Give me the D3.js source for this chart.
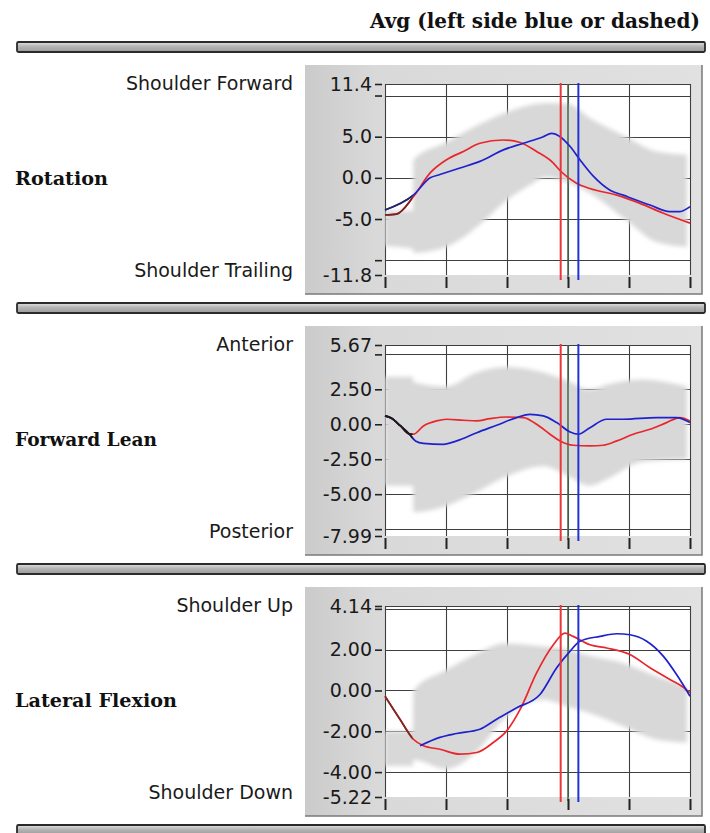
<!DOCTYPE html>
<html>
<head>
<meta charset="utf-8">
<script src="https://cdn.jsdelivr.net/npm/d3@7"></script>
<style>
  html, body { margin: 0; padding: 0; background: #ffffff; }
  svg { display: block; }
</style>
</head>
<body>
<svg id="chart" width="710" height="833"></svg>
<script>
// ---- cycle position (percent) ----
const xTicks = [0, 20, 40, 60, 80, 100];
const leadEnd = 9;            // shared lead-in segment drawn darker
const redEvent = 57.6;        // right side event
const releaseEvent = 60;      // reference event
const blueEvent = 63.4;       // left side event

// ---- Rotation ----
const rotationDomain = [-11.8, 11.4];
const rotationTicks = [11.4, 10, 5, 0, -5, -10, -11.8];
const rotationTickLabels = ["11.4", "", "5.0", "0.0", "-5.0", "", "-11.8"];
const rotationGrid = [10, 5, 0, -5, -10];
const rotationBandX  = [0, 9.2, 9.3, 20, 31, 40, 47, 53, 60, 67, 79, 89, 99];
const rotationBandHi = [-4.0, -4.0, 2.2, 4.3, 6.5, 8.0, 8.8, 9.1, 9.0, 7.3, 5.0, 3.2, 2.8];
const rotationBandLo = [-8.3, -8.6, -9.1, -8.4, -5.7, -2.7, -1.0, 0.1, -0.6, -1.8, -5.1, -7.8, -8.4];
const rotationRedX = [0, 3.8, 9.3, 14.8, 20.2, 25.7, 31.1, 38.8, 44.3, 49.7, 55.2, 57.6, 62.8, 67.2, 76.0, 83.6, 91.3, 100];
const rotationRedY = [-4.5, -4.4, -2.3, 0.6, 2.2, 3.2, 4.2, 4.6, 4.3, 3.2, 1.8, 0.8, -0.65, -1.3, -2.1, -3.1, -4.3, -5.5];
const rotationBlueX = [0, 9.3, 14.8, 18.0, 24.6, 31.1, 38.8, 45.4, 51.9, 54.6, 57.4, 60.7, 63.9, 68.3, 73.8, 78.1, 86.9, 93.4, 96.7, 100];
const rotationBlueY = [-3.9, -2.1, 0.0, 0.4, 1.2, 2.0, 3.4, 4.2, 5.0, 5.4, 5.0, 3.8, 2.2, 0.2, -1.5, -2.1, -3.3, -4.1, -4.1, -3.5];

// ---- Forward Lean ----
const leanDomain = [-7.99, 5.67];
const leanTicks = [5.67, 5, 2.5, 0, -2.5, -5, -7.5, -7.99];
const leanTickLabels = ["5.67", "", "2.50", "0.00", "-2.50", "-5.00", "", "-7.99"];
const leanGrid = [5, 2.5, 0, -2.5, -5, -7.5];
const leanBandX  = [0, 9.2, 9.3, 20, 30, 40, 52, 60, 67, 73, 84, 99];
const leanBandHi = [3.4, 3.4, 3.0, 2.7, 3.7, 4.1, 3.7, 3.1, 2.5, 2.85, 3.2, 2.7];
const leanBandLo = [-4.4, -4.4, -6.3, -5.85, -4.85, -3.7, -3.0, -3.7, -4.4, -3.9, -2.7, -2.5];
const leanRedX = [0, 2, 5, 8, 9.3, 12.6, 16.9, 20.2, 25.7, 30.1, 34.4, 39.9, 45.4, 49.7, 54.1, 57.4, 61.7, 67.2, 71.6, 76.0, 81.4, 86.9, 92.3, 96.7, 100];
const leanRedY = [0.6, 0.45, -0.1, -0.7, -0.71, -0.12, 0.24, 0.36, 0.29, 0.24, 0.40, 0.52, 0.48, 0.0, -0.71, -1.19, -1.5, -1.55, -1.5, -1.19, -0.71, -0.36, 0.12, 0.48, 0.24];
const leanBlueX = [0, 2, 5, 8, 10, 12.6, 19.1, 23.5, 30.1, 36.6, 43.2, 47.5, 51.9, 56.3, 60.7, 63.4, 67.2, 72.7, 78.1, 89.1, 95.6, 100];
const leanBlueY = [0.6, 0.45, -0.1, -0.7, -1.19, -1.36, -1.43, -1.19, -0.6, -0.07, 0.48, 0.71, 0.6, 0.12, -0.55, -0.71, -0.24, 0.36, 0.36, 0.48, 0.48, 0.12];

// ---- Lateral Flexion ----
const flexDomain = [-5.22, 4.14];
const flexTicks = [4.14, 4, 2, 0, -2, -4, -5.22];
const flexTickLabels = ["4.14", "", "2.00", "0.00", "-2.00", "-4.00", "-5.22"];
const flexGrid = [4, 2, 0, -2, -4];
const flexBandX  = [0, 9.2, 9.3, 20, 30, 39, 52, 60, 67, 78, 89, 99];
const flexBandHi = [-2.0, -2.0, 0.0, 1.0, 1.8, 2.3, 2.15, 2.0, 1.7, 1.35, 0.7, 0.2];
const flexBandLo = [-3.7, -3.7, -3.4, -3.85, -3.0, -1.4, -0.45, -0.8, -1.1, -1.75, -2.4, -2.55];
const flexRedX = [0, 4.9, 9.3, 12.6, 18.0, 24.6, 30.1, 35.5, 39.9, 44.3, 49.7, 55.2, 59.0, 61.7, 67.2, 72.7, 80.3, 86.9, 93.4, 97.3, 100];
const flexRedY = [-0.28, -1.41, -2.39, -2.71, -2.88, -3.12, -3.04, -2.55, -1.98, -0.93, 0.86, 2.24, 2.81, 2.65, 2.24, 2.08, 1.76, 1.11, 0.54, 0.21, -0.11];
const flexBlueX = [11.5, 18.0, 23.5, 31.1, 36.6, 43.2, 50.8, 56.3, 60.7, 63.9, 70.5, 76.0, 80.3, 85.8, 91.3, 95.6, 100];
const flexBlueY = [-2.71, -2.3, -2.11, -1.9, -1.41, -0.85, -0.2, 1.11, 1.93, 2.41, 2.65, 2.78, 2.73, 2.41, 1.67, 0.78, -0.28];

const titleText = "Avg (left side blue or dashed)";
const panelNames = ["Rotation", "Forward Lean", "Lateral Flexion"];
const topLabels = ["Shoulder Forward", "Anterior", "Shoulder Up"];
const bottomLabels = ["Shoulder Trailing", "Posterior", "Shoulder Down"];

const zip = (xs, ys) => xs.map((v, i) => ({ x: v, y: ys[i] }));
const zipBand = (xs, hi, lo) => xs.map((v, i) => ({ x: v, hi: hi[i], lo: lo[i] }));

const panels = [
  { domain: rotationDomain, ticks: rotationTicks, tickLabels: rotationTickLabels, grid: rotationGrid,
    band: zipBand(rotationBandX, rotationBandHi, rotationBandLo),
    red: zip(rotationRedX, rotationRedY), blue: zip(rotationBlueX, rotationBlueY) },
  { domain: leanDomain, ticks: leanTicks, tickLabels: leanTickLabels, grid: leanGrid,
    band: zipBand(leanBandX, leanBandHi, leanBandLo),
    red: zip(leanRedX, leanRedY), blue: zip(leanBlueX, leanBlueY) },
  { domain: flexDomain, ticks: flexTicks, tickLabels: flexTickLabels, grid: flexGrid,
    band: zipBand(flexBandX, flexBandHi, flexBandLo),
    red: zip(flexRedX, flexRedY), blue: zip(flexBlueX, flexBlueY) }
];

// ---- layout ----
const X0 = 385, X1 = 690;
const PLOT_TOP0 = 84, PITCH = 261, PLOT_H = 191;
const BOX_X0 = 305, BOX_X1 = 702;
const leadColors = [["#6e2424", "#26265e"], ["#1b1b1b", "#1b1b1b"], ["#7a2a24", "#7a2a24"]];

const svg = d3.select("#chart");
const defs = svg.append("defs");

const sepGrad = defs.append("linearGradient").attr("id", "sepFill")
  .attr("x1", 0).attr("y1", 0).attr("x2", 0).attr("y2", 1);
sepGrad.append("stop").attr("offset", "0%").attr("stop-color", "#e2e2e2");
sepGrad.append("stop").attr("offset", "45%").attr("stop-color", "#b4b4b4");
sepGrad.append("stop").attr("offset", "100%").attr("stop-color", "#9a9a9a");

const boxGrad = defs.append("linearGradient").attr("id", "boxFill")
  .attr("x1", 0).attr("y1", 0).attr("x2", 1).attr("y2", 0);
boxGrad.append("stop").attr("offset", "0%").attr("stop-color", "#cbcbcb");
boxGrad.append("stop").attr("offset", "18%").attr("stop-color", "#d9d9d9");
boxGrad.append("stop").attr("offset", "100%").attr("stop-color", "#e1e1e1");

const blur = defs.append("filter").attr("id", "soft")
  .attr("x", "-5%").attr("y", "-10%").attr("width", "110%").attr("height", "120%");
blur.append("feGaussianBlur").attr("stdDeviation", 2);

const x = d3.scaleLinear().domain([0, 100]).range([X0, X1]);

// title
svg.append("text")
  .attr("x", 370).attr("y", 28)
  .attr("textLength", 330).attr("lengthAdjust", "spacingAndGlyphs")
  .attr("font-family", "DejaVu Serif").attr("font-weight", "bold").attr("font-size", 20)
  .attr("fill", "#111").text(titleText);

// separator bars
d3.range(4).forEach(i => {
  svg.append("rect")
    .attr("x", 17).attr("y", PLOT_TOP0 + i * PITCH - 42)
    .attr("width", 688).attr("height", 10).attr("rx", 1.5)
    .attr("fill", "url(#sepFill)").attr("stroke", "#2a2a2a").attr("stroke-width", 1.8);
});

panels.forEach((p, i) => {
  const top = PLOT_TOP0 + i * PITCH;
  const bot = top + PLOT_H;
  const y = d3.scaleLinear().domain(p.domain).range([bot, top]);
  const g = svg.append("g");

  // panel frame
  g.append("rect").attr("x", BOX_X0).attr("y", top - 19)
    .attr("width", BOX_X1 - BOX_X0).attr("height", PLOT_H + 38)
    .attr("fill", "url(#boxFill)");
  g.append("path")
    .attr("d", `M${BOX_X1},${top - 19}V${bot + 19}H${BOX_X0}`)
    .attr("fill", "none").attr("stroke", "#7a7a7a").attr("stroke-width", 1.5);

  // plot background
  g.append("rect").attr("x", X0).attr("y", top)
    .attr("width", X1 - X0).attr("height", PLOT_H).attr("fill", "#ffffff");

  const clipId = `plot-clip-${i}`;
  defs.append("clipPath").attr("id", clipId)
    .append("rect").attr("x", X0).attr("y", top).attr("width", X1 - X0).attr("height", PLOT_H + 6);
  const leadId = `lead-clip-${i}`;
  defs.append("clipPath").attr("id", leadId)
    .append("rect").attr("x", X0 - 2).attr("y", top).attr("width", x(leadEnd) - X0 + 2).attr("height", PLOT_H);

  // grid
  const grid = g.append("g").attr("stroke", "#3e3e3e").attr("stroke-width", 1.1);
  grid.selectAll("line.h").data([p.domain[1]].concat(p.grid)).join("line")
    .attr("x1", X0).attr("x2", X1)
    .attr("y1", d => Math.round(y(d)) + 0.5).attr("y2", d => Math.round(y(d)) + 0.5);
  grid.selectAll("line.v").data(xTicks).join("line")
    .attr("x1", d => Math.round(x(d)) + 0.5).attr("x2", d => Math.round(x(d)) + 0.5)
    .attr("y1", top).attr("y2", bot);

  // normative band
  const area = d3.area().curve(d3.curveMonotoneX)
    .x(d => x(d.x)).y0(d => y(d.lo)).y1(d => y(d.hi));
  g.append("g").attr("clip-path", `url(#${clipId})`)
    .append("path").datum(p.band).attr("d", area)
    .attr("fill", "#d8d8d8").attr("filter", "url(#soft)");

  // reference event marker
  g.append("line")
    .attr("x1", x(releaseEvent)).attr("x2", x(releaseEvent))
    .attr("y1", top).attr("y2", bot + 4)
    .attr("stroke", "#44664a").attr("stroke-width", 1.5);

  // curves
  const line = d3.line().curve(d3.curveMonotoneX).x(d => x(d.x)).y(d => y(d.y));
  const curves = g.append("g").attr("fill", "none").attr("stroke-width", 1.7);
  curves.append("path").datum(p.red).attr("d", line).attr("stroke", "#e8262c");
  curves.append("path").datum(p.blue).attr("d", line).attr("stroke", "#1f22cc");
  const lead = curves.append("g").attr("clip-path", `url(#${leadId})`);
  lead.append("path").datum(p.red).attr("d", line).attr("stroke", leadColors[i][0]);
  lead.append("path").datum(p.blue).attr("d", line).attr("stroke", leadColors[i][1]);

  // side event markers
  g.append("line")
    .attr("x1", x(redEvent)).attr("x2", x(redEvent))
    .attr("y1", top - 1).attr("y2", bot + 5)
    .attr("stroke", "#e8363a").attr("stroke-width", 2);
  g.append("line")
    .attr("x1", x(blueEvent)).attr("x2", x(blueEvent))
    .attr("y1", top - 1).attr("y2", bot + 5)
    .attr("stroke", "#2233d6").attr("stroke-width", 2);

  // y axis
  const yAxis = d3.axisLeft(y)
    .tickValues(p.ticks)
    .tickFormat((d, k) => p.tickLabels[k])
    .tickSize(7).tickPadding(3);
  const ya = g.append("g").attr("transform", `translate(${X0 - 3},0)`).call(yAxis);
  ya.select(".domain").remove();
  ya.attr("font-family", "DejaVu Sans").attr("font-size", 19);
  ya.selectAll("line").attr("stroke", "#222").attr("stroke-width", 1.6);
  ya.selectAll("text").attr("fill", "#1a1a1a");

  // x axis ticks (unlabelled)
  const xAxis = d3.axisBottom(x).tickValues(xTicks).tickFormat("").tickSize(11);
  const xa = g.append("g").attr("transform", `translate(0,${bot + 2})`).call(xAxis);
  xa.select(".domain").remove();
  xa.selectAll("line").attr("stroke", "#222").attr("stroke-width", 2);

  // direction labels
  g.append("text").attr("x", 293).attr("y", top + 6)
    .attr("text-anchor", "end").attr("font-family", "DejaVu Sans").attr("font-size", 19)
    .attr("fill", "#1a1a1a").text(topLabels[i]);
  g.append("text").attr("x", 293).attr("y", bot + 2)
    .attr("text-anchor", "end").attr("font-family", "DejaVu Sans").attr("font-size", 19)
    .attr("fill", "#1a1a1a").text(bottomLabels[i]);

  // panel name
  const nameWidths = [93, 142, 162];
  g.append("text").attr("x", 15).attr("y", top + PLOT_H / 2 + 5)
    .attr("textLength", nameWidths[i]).attr("lengthAdjust", "spacingAndGlyphs")
    .attr("font-family", "DejaVu Serif").attr("font-weight", "bold").attr("font-size", 18)
    .attr("fill", "#111").text(panelNames[i]);
});
</script>
</body>
</html>
